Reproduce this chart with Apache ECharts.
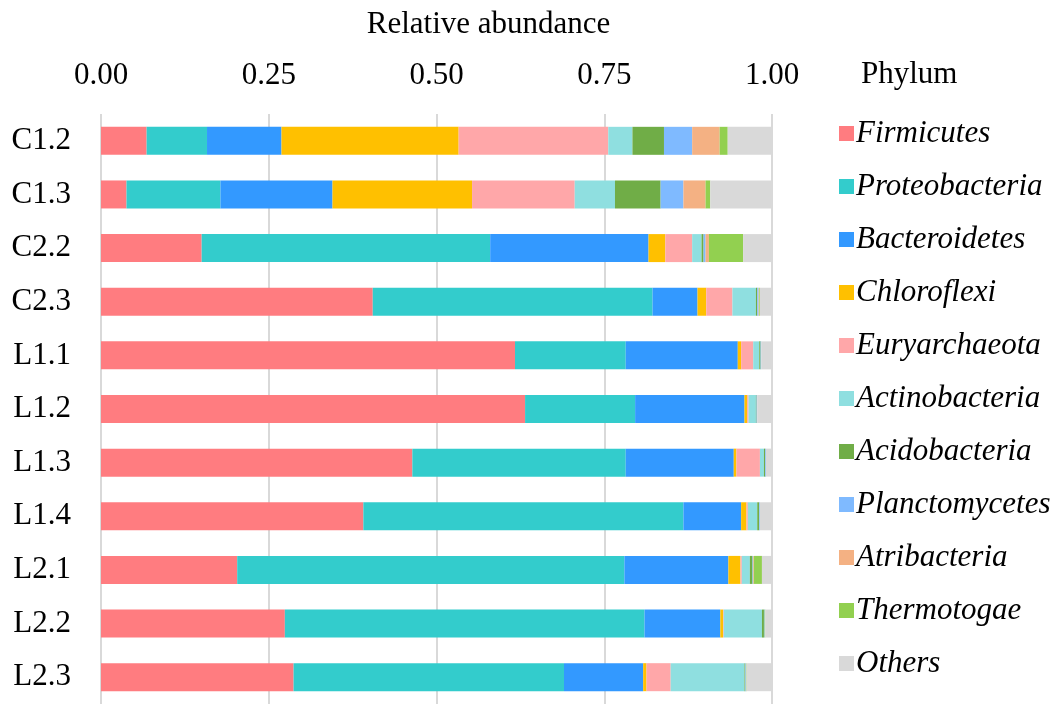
<!DOCTYPE html>
<html>
<head>
<meta charset="utf-8">
<script src="https://cdn.jsdelivr.net/npm/echarts@6/dist/echarts.min.js"></script>
<style>
  html, body { margin: 0; padding: 0; background: #fff; }
  #main { width: 1064px; height: 704px; }
</style>
</head>
<body>
<div id="main"></div>
<script>
// samples, top to bottom
const samples = ['C1.2', 'C1.3', 'C2.2', 'C2.3', 'L1.1', 'L1.2', 'L1.3', 'L1.4', 'L2.1', 'L2.2', 'L2.3'];
const xTicks = [0, 0.25, 0.5, 0.75, 1];

// relative abundance per phylum (same order as samples)
const firmicutes     = [0.068, 0.038, 0.150, 0.405, 0.617, 0.632, 0.464, 0.391, 0.203, 0.274, 0.287];
const proteobacteria = [0.090, 0.140, 0.430, 0.417, 0.165, 0.164, 0.318, 0.477, 0.577, 0.536, 0.403];
const bacteroidetes  = [0.111, 0.167, 0.236, 0.067, 0.167, 0.163, 0.161, 0.086, 0.155, 0.113, 0.118];
const chloroflexi    = [0.264, 0.208, 0.025, 0.013, 0.005, 0.004, 0.004, 0.008, 0.018, 0.004, 0.005];
const euryarchaeota  = [0.223, 0.153, 0.040, 0.039, 0.018, 0.002, 0.035, 0.002, 0.002, 0.001, 0.036];
const actinobacteria = [0.036, 0.060, 0.014, 0.035, 0.009, 0.011, 0.006, 0.014, 0.012, 0.057, 0.110];
const acidobacteria  = [0.047, 0.068, 0.003, 0.002, 0.002, 0.001, 0.002, 0.003, 0.004, 0.003, 0.001];
const planctomycetes = [0.042, 0.034, 0.003, 0.002, 0.001, 0.001, 0.001, 0.001, 0.001, 0.001, 0.001];
const atribacteria   = [0.041, 0.033, 0.005, 0.001, 0, 0, 0, 0, 0.001, 0, 0];
const thermotogae    = [0.012, 0.007, 0.051, 0.001, 0, 0, 0, 0, 0.012, 0.001, 0.001];
const others         = [0.066, 0.092, 0.043, 0.018, 0.016, 0.022, 0.009, 0.018, 0.015, 0.010, 0.038];

const phyla = [
  ['Firmicutes', firmicutes, '#ff7c80'],
  ['Proteobacteria', proteobacteria, '#33cccc'],
  ['Bacteroidetes', bacteroidetes, '#3399ff'],
  ['Chloroflexi', chloroflexi, '#ffc000'],
  ['Euryarchaeota', euryarchaeota, '#ffa7a9'],
  ['Actinobacteria', actinobacteria, '#8fdfe0'],
  ['Acidobacteria', acidobacteria, '#70ad47'],
  ['Planctomycetes', planctomycetes, '#7fbaff'],
  ['Atribacteria', atribacteria, '#f4b183'],
  ['Thermotogae', thermotogae, '#92d050'],
  ['Others', others, '#d9d9d9']
];

const serif = '"Liberation Serif", "Times New Roman", serif';

const chart = echarts.init(document.getElementById('main'));
chart.setOption({
  animation: false,
  backgroundColor: '#fff',
  title: {
    text: 'Phylum',
    left: 856,
    top: 54,
    textStyle: { fontFamily: serif, fontSize: 31, fontWeight: 'normal', color: '#000' }
  },
  legend: {
    orient: 'vertical',
    left: 834,
    top: 113,
    itemWidth: 15,
    itemHeight: 15,
    itemGap: 22,
    icon: 'rect',
    data: phyla.map(p => p[0]),
    textStyle: { fontFamily: serif, fontStyle: 'italic', fontSize: 31, lineHeight: 31, color: '#000', padding: [0, 0, 0, -3] }
  },
  grid: { left: 101, top: 114, width: 671, bottom: 0 },
  xAxis: {
    type: 'value',
    position: 'top',
    min: 0,
    max: 1,
    interval: 0.25,
    name: 'Relative abundance',
    nameLocation: 'middle',
    nameGap: 74,
    nameTextStyle: { fontFamily: serif, fontSize: 31, color: '#000', padding: [0, 0, 0, 104] },
    axisLine: { show: false },
    axisTick: { show: false },
    axisLabel: {
      margin: 23,
      fontFamily: serif,
      fontSize: 31,
      color: '#000',
      formatter: v => xTicks.includes(v) ? v.toFixed(2) : ''
    },
    splitLine: { show: true, lineStyle: { color: '#d9d9d9', width: 2 } }
  },
  yAxis: {
    type: 'category',
    inverse: true,
    data: samples,
    axisLine: { show: false },
    axisTick: { show: false },
    axisLabel: { margin: 30, fontFamily: serif, fontSize: 31, color: '#000' }
  },
  series: phyla.map(p => ({
    name: p[0],
    type: 'bar',
    stack: 'total',
    barWidth: 28,
    data: p[1],
    itemStyle: { color: p[2] }
  }))
});
</script>
</body>
</html>
